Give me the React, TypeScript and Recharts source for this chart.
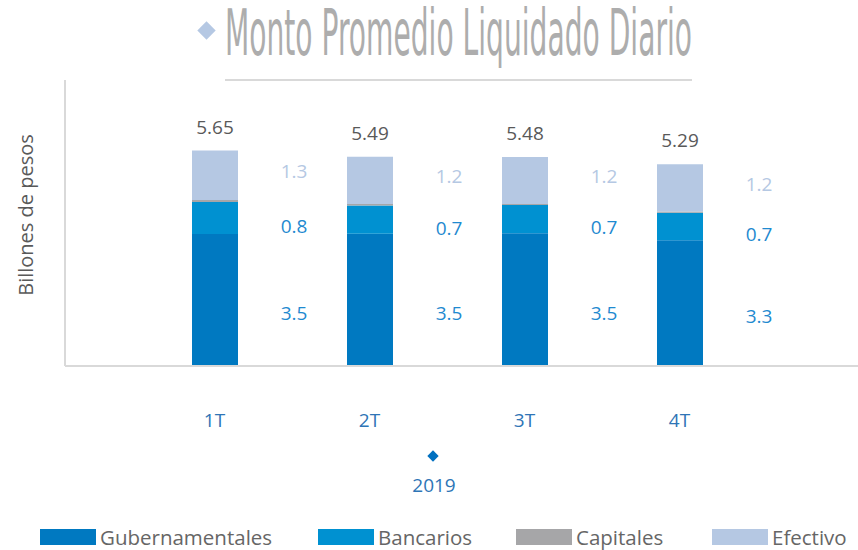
import { BarChart, Bar, XAxis, YAxis, LabelList } from "recharts";

// quarterly values (billones de pesos)
const categories = ["1T", "2T", "3T", "4T"];
const gubernamentales = [3.46, 3.47, 3.48, 3.3];
const bancarios = [0.84, 0.74, 0.74, 0.72];
const capitales = [0.05, 0.04, 0.03, 0.03];
const efectivo = [1.3, 1.24, 1.23, 1.24];
const yearLabel = "2019";

const FONT = "'Open Sans', 'Noto Sans', sans-serif";

const data = categories.map((c, i) => ({
  name: c,
  gub: gubernamentales[i],
  ban: bancarios[i],
  cap: capitales[i],
  efe: efectivo[i],
  total: gubernamentales[i] + bancarios[i] + capitales[i] + efectivo[i],
}));

const series = [
  { key: "gub", name: "Gubernamentales", color: "#0079c1", label: "#1f8ad0", dy: 13 },
  { key: "ban", name: "Bancarios", color: "#0091d1", label: "#1f8ad0", dy: 8 },
  { key: "cap", name: "Capitales", color: "#a6a6a8", label: null, dy: 0 },
  { key: "efe", name: "Efectivo", color: "#b5c8e3", label: "#b5c8e3", dy: -4 },
];

const sideLabel = (color: string, dy: number) => (props: any) => {
  const { x, y, width, height, value } = props;
  return (
    <text
      x={x + width + 56}
      y={y + height / 2 + dy}
      fill={color}
      fontSize={19}
      fontFamily={FONT}
      textAnchor="middle"
      dominantBaseline="central"
    >
      {Number(value).toFixed(1)}
    </text>
  );
};

const totalLabel = (props: any) => {
  const { x, y, width, value } = props;
  return (
    <text
      x={x + width / 2}
      y={y - 24}
      fill="#595959"
      fontSize={19}
      fontFamily={FONT}
      textAnchor="middle"
      dominantBaseline="central"
    >
      {Number(value).toFixed(2)}
    </text>
  );
};

const legendLefts = [40, 318, 516, 712];

export default function App() {
  return (
    <div style={{ position: "absolute", left: 0, top: 0, width: 858, height: 550, background: "#fff" }}>
      <svg width={858} height={90} style={{ position: "absolute", left: 0, top: 0 }}>
        <rect x={200} y={24} width={13} height={13} fill="#b5c8e3" transform="rotate(45 206.5 30.5)" />
        <text
          x={225}
          y={55}
          fill="#adadad"
          fontSize={64}
          fontFamily="'Liberation Sans Narrow', 'DejaVu Sans Condensed', sans-serif"
          textLength={467}
          lengthAdjust="spacingAndGlyphs"
        >
          Monto Promedio Liquidado Diario
        </text>
        <line x1={225} x2={692} y1={80} y2={80} stroke="#d9d9d9" strokeWidth={2} />
      </svg>

      <div
        style={{
          position: "absolute",
          left: 25,
          top: 215,
          transform: "translate(-50%, -50%) rotate(-90deg)",
          fontFamily: FONT,
          fontSize: 20,
          color: "#595959",
          whiteSpace: "nowrap",
        }}
      >
        Billones de pesos
      </div>

      <BarChart
        width={858}
        height={550}
        data={data}
        margin={{ top: 80, right: 0, bottom: 124, left: 55 }}
        barSize={46}
        style={{ position: "absolute", left: 0, top: 0 }}
      >
        <XAxis
          dataKey="name"
          padding={{ left: 72, right: 101 }}
          axisLine={{ stroke: "#d9d9d9", strokeWidth: 2 }}
          tickLine={false}
          tickSize={0}
          tickMargin={48}
          tick={{ fill: "#2e75b6", fontSize: 19, fontFamily: FONT }}
          height={60}
        />
        <YAxis
          width={10}
          domain={[0, 7.5]}
          tick={false}
          tickLine={false}
          axisLine={{ stroke: "#d9d9d9", strokeWidth: 2 }}
        />
        {series.map((s) => (
          <Bar key={s.key} dataKey={s.key} name={s.name} stackId="a" fill={s.color} isAnimationActive={false}>
            {s.label && <LabelList dataKey={s.key} content={sideLabel(s.label, s.dy)} />}
            {s.key === "efe" && <LabelList dataKey="total" content={totalLabel} />}
          </Bar>
        ))}
      </BarChart>

      <svg width={858} height={550} style={{ position: "absolute", left: 0, top: 0, pointerEvents: "none" }}>
        <rect x={429} y={452} width={8} height={8} fill="#0070c0" transform="rotate(45 433 456)" />
        <text x={434} y={485} fill="#2e75b6" fontSize={19} fontFamily={FONT} textAnchor="middle" dominantBaseline="central">
          {yearLabel}
        </text>
      </svg>

      <div style={{ position: "absolute", left: 0, top: 525, width: 858, height: 24, fontFamily: FONT }}>
        {series.map((s, i) => (
          <div
            key={s.key}
            style={{
              position: "absolute",
              left: legendLefts[i],
              top: 0,
              display: "flex",
              alignItems: "center",
              whiteSpace: "nowrap",
            }}
          >
            <span style={{ width: 56, height: 16, background: s.color, display: "inline-block", marginRight: 4 }} />
            <span style={{ fontSize: 20.5, color: "#666666", lineHeight: "24px" }}>{s.name}</span>
          </div>
        ))}
      </div>
    </div>
  );
}
